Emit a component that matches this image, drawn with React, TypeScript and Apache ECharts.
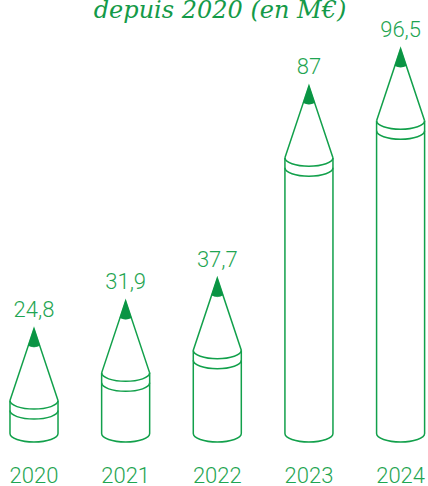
import React, { useEffect, useRef } from "react";
import * as echarts from "echarts";

const years = ["2020", "2021", "2022", "2023", "2024"];
const values = [24.8, 31.9, 37.7, 87, 96.5];
const titleText = "depuis 2020 (en M€)";

const GREEN = "#12a04b";
const TIP = "#0a9444";
const TEXT = "#1fa552";
const Y_MIN = -2.2;
const Y_MAX = 100;

const K = 0.5523;
function lowerArc(cx: number, hw: number, y: number, ry: number, move: boolean) {
  const start = move ? `M ${cx - hw} ${y} ` : "";
  return (
    start +
    `C ${cx - hw} ${y + ry * K} ${cx - hw * K} ${y + ry} ${cx} ${y + ry} ` +
    `C ${cx + hw * K} ${y + ry} ${cx + hw} ${y + ry * K} ${cx + hw} ${y}`
  );
}

export default function App() {
  const ref = useRef<HTMLDivElement>(null);
  useEffect(() => {
    if (!ref.current) return;
    const chart = echarts.init(ref.current, null, { renderer: "svg" });
    const option: any = {
      animation: false,
      backgroundColor: "#ffffff",
      graphic: [
        {
          type: "text",
          x: 220,
          y: 10,
          style: {
            text: titleText,
            align: "center",
            verticalAlign: "middle",
            fontFamily: "DejaVu Serif",
            fontStyle: "italic",
            fontSize: 24,
            fill: "#149a48",
          },
        },
      ],
      grid: { left: 34, right: 26, top: 35, bottom: 50 },
      xAxis: {
        type: "category",
        data: years,
        boundaryGap: false,
        axisLine: { show: false },
        axisTick: { show: false },
        splitLine: { show: false },
        axisLabel: {
          margin: 30,
          color: TEXT,
          fontFamily: "Roboto",
          fontWeight: 300,
          fontSize: 22,
        },
      },
      yAxis: {
        type: "value",
        min: Y_MIN,
        max: Y_MAX,
        show: false,
        splitLine: { show: false },
      },
      series: [
        {
          type: "custom",
          data: values.map((v, i) => [i, v]),
          renderItem: (params: any, api: any) => {
            const i = api.value(0);
            const v = api.value(1);
            const tip = api.coord([i, v]);
            const base = api.coord([i, Y_MIN]);
            const band = api.size([1, 0])[0];
            const hw = band * 0.262;
            const cx = tip[0];
            const yTip = tip[1];
            const yBot = base[1] - 0.5;
            const coneH = 72;
            const yTop = yTip + coneH;
            const ry = 8.5;
            const tipH = 17;
            const tipW = (hw * tipH) / coneH;
            const body =
              `M ${cx - hw} ${yTop} L ${cx - hw} ${yBot} ` +
              lowerArc(cx, hw, yBot, ry, false) +
              ` L ${cx + hw} ${yTop}`;
            const band1 = lowerArc(cx, hw, yTop, ry, true);
            const band2 = lowerArc(cx, hw, yTop + 10, ry, true);
            const cone = `M ${cx - hw} ${yTop} L ${cx} ${yTip} L ${cx + hw} ${yTop}`;
            const tipPath =
              `M ${cx} ${yTip} L ${cx + tipW} ${yTip + tipH} ` +
              `Q ${cx} ${yTip + tipH + 3} ${cx - tipW} ${yTip + tipH} Z`;
            const lineStyle = { fill: "none", stroke: GREEN, lineWidth: 1.5 };
            return {
              type: "group",
              children: [
                { type: "path", shape: { pathData: body }, style: lineStyle },
                { type: "path", shape: { pathData: band1 }, style: lineStyle },
                { type: "path", shape: { pathData: band2 }, style: lineStyle },
                { type: "path", shape: { pathData: cone }, style: lineStyle },
                { type: "path", shape: { pathData: tipPath }, style: { fill: TIP, stroke: TIP, lineWidth: 0.5 } },
                {
                  type: "text",
                  style: {
                    text: String(v).replace(".", ","),
                    x: cx,
                    y: yTip - 8,
                    align: "center",
                    verticalAlign: "bottom",
                    fontFamily: "Roboto",
                    fontWeight: 300,
                    fontSize: 22,
                    fill: TEXT,
                  },
                },
              ],
            };
          },
        },
      ],
    };
    chart.setOption(option);
    return () => chart.dispose();
  }, []);
  return (
    <div
      ref={ref}
      style={{ position: "absolute", left: 0, top: 0, width: 428, height: 486 }}
    />
  );
}
